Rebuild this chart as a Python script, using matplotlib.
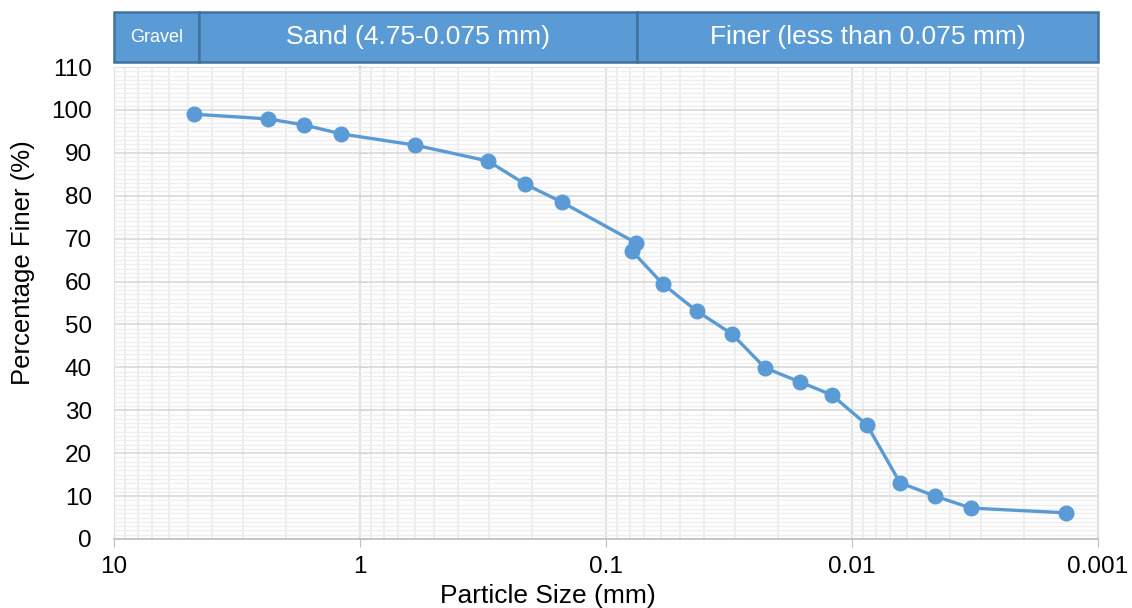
import numpy as np
import matplotlib.pyplot as plt
from matplotlib.patches import Rectangle
from matplotlib.ticker import FixedLocator, MultipleLocator, NullFormatter

plt.rcParams['font.family'] = ['Liberation Sans', 'DejaVu Sans']

# grain size distribution
size_mm = [4.73, 2.36, 1.69, 1.19, 0.598, 0.302, 0.213, 0.151, 0.0755, 0.0784,
           0.0587, 0.0427, 0.0308, 0.0226, 0.0163, 0.0121, 0.0087, 0.00638,
           0.0046, 0.00328, 0.00135]
finer_pct = [99.0, 97.9, 96.5, 94.4, 91.8, 88.1, 82.7, 78.5, 69.0, 67.1,
             59.4, 53.1, 47.8, 39.9, 36.6, 33.6, 26.6, 13.1,
             10.0, 7.2, 6.1]

x_ticks = [10, 1, 0.1, 0.01, 0.001]
x_ticklabels = ['10', '1', '0.1', '0.01', '0.001']

band_labels = ['Gravel', 'Sand (4.75-0.075 mm)', 'Finer (less than 0.075 mm)']
band_edges = [10, 4.5, 0.075, 0.001]
band_fontsize = [13, 19, 19]

blue = '#5B9BD5'
dark_blue = '#41719C'

fig = plt.figure(figsize=(11.32, 6.08), dpi=100)
ax = fig.add_axes([0.1007, 0.1135, 0.8693, 0.7763])

ax.set_xscale('log')
ax.set_xlim(10, 0.001)
ax.set_ylim(0, 110)

# grid
ax.xaxis.set_major_locator(FixedLocator(x_ticks))
ax.xaxis.set_minor_locator(FixedLocator(
    [m * 10.0 ** e for e in range(-3, 1) for m in range(2, 10)]))
ax.xaxis.set_minor_formatter(NullFormatter())
ax.set_xticklabels(x_ticklabels)
ax.yaxis.set_major_locator(MultipleLocator(10))
ax.yaxis.set_minor_locator(MultipleLocator(1))

ax.grid(which='minor', axis='y', color='#EFEFEF', lw=1.0)
ax.grid(which='minor', axis='x', color='#EDEDED', lw=1.5)
ax.grid(which='major', axis='y', color='#D9D9D9', lw=1.2)
ax.grid(which='major', axis='x', color='#E0E0E0', lw=1.5)
ax.set_axisbelow(True)

ax.tick_params(axis='x', which='major', length=6, color='#BFBFBF', labelsize=17.5,
               pad=6, labelcolor='#000000')
ax.tick_params(axis='x', which='minor', length=0)
ax.tick_params(axis='y', which='both', length=0, labelsize=17.5, pad=16)

for side in ['top', 'right', 'left']:
    ax.spines[side].set_color('#E0E0E0')
ax.spines['bottom'].set_color('#BFBFBF')
ax.spines['bottom'].set_linewidth(1.2)

# vertical axis crossing at 1 mm
yax = ax.secondary_yaxis(0.25)
yax.spines['left'].set_color('#A6A6A6')
yax.spines['left'].set_linewidth(1.3)
yax.yaxis.set_major_locator(MultipleLocator(10))
yax.tick_params(axis='y', which='major', direction='in', length=5,
                color='#BFBFBF', labelleft=False)
yax.tick_params(axis='y', which='minor', length=0)

ax.plot(size_mm, finer_pct, color=blue, lw=2.4, marker='o', markersize=10.5,
        zorder=3)

ax.set_xlabel('Particle Size (mm)', fontsize=19)
ax.xaxis.set_label_coords(0.441, -0.095)
ax.set_ylabel('Percentage Finer (%)', fontsize=18.5)
ax.yaxis.set_label_coords(-0.080, 0.585)

# header bands
hax = fig.add_axes([0.1007, 0.898, 0.8693, 0.082])
hax.set_xscale('log')
hax.set_xlim(10, 0.001)
hax.set_ylim(0, 1)
hax.axis('off')
for i, lab in enumerate(band_labels):
    lo, hi = band_edges[i], band_edges[i + 1]
    hax.add_patch(Rectangle((hi, 0), lo - hi, 1, facecolor=blue,
                            edgecolor=dark_blue, lw=1.8, clip_on=False))
    xc = np.sqrt(lo * hi)
    hax.text(xc, 0.5, lab, ha='center', va='center', color='white',
             fontsize=band_fontsize[i])

fig.savefig('out.png', dpi=100)
